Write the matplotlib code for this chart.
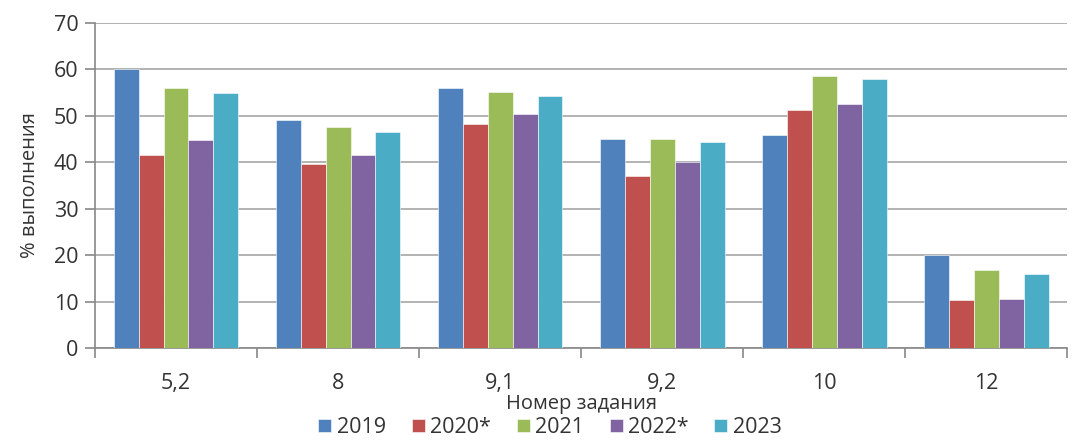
import matplotlib
matplotlib.use("Agg")
from matplotlib import pyplot as plt
import numpy as np

plt.rcParams['font.family'] = ['Open Sans', 'DejaVu Sans']

tasks = ["5,2", "8", "9,1", "9,2", "10", "12"]
years = ["2019", "2020*", "2021", "2022*", "2023"]
v2019 = [60.0, 49.0, 56.0, 45.0, 45.9, 20.0]
v2020 = [41.5, 39.7, 48.2, 37.1, 51.3, 10.4]
v2021 = [56.0, 47.5, 55.2, 45.0, 58.6, 16.7]
v2022 = [44.7, 41.5, 50.3, 40.0, 52.5, 10.6]
v2023 = [54.8, 46.5, 54.3, 44.3, 58.0, 15.9]
series = [v2019, v2020, v2021, v2022, v2023]
colors = ["#4F81BD", "#C0504D", "#9BBB59", "#8064A2", "#4BACC6"]

fig = plt.figure(figsize=(10.72, 4.4), dpi=100)
ax = fig.add_axes([0.0886, 0.209, 0.907, 0.739])

x = np.arange(len(tasks))
w = 0.154
for i, (vals, c) in enumerate(zip(series, colors)):
    ax.bar(x + (i - 2) * w, vals, w, color=c, label=years[i],
           edgecolor="white", linewidth=0.4, zorder=3)

ax.set_xlim(-0.5, len(tasks) - 0.5)
ax.set_ylim(0, 70)
ax.set_yticks(range(0, 71, 10))
ax.yaxis.grid(True, color="#A6A6A6", linewidth=1.2, zorder=0)
ax.set_axisbelow(True)

ax.set_xticks(np.arange(len(tasks) + 1) - 0.5)
ax.set_xticklabels([])
ax.set_xticks(x, minor=True)
ax.set_xticklabels(tasks, minor=True)
ax.tick_params(axis="x", which="minor", length=0, pad=18, labelsize=15.5, colors="#333333")
ax.tick_params(axis="x", which="major", length=7, color="#888888", width=1.2)
ax.tick_params(axis="y", length=7, color="#888888", width=1.2, labelsize=15.5,
               labelcolor="#333333", pad=5)

for s in ["top", "right"]:
    ax.spines[s].set_visible(False)
ax.spines["left"].set_color("#888888")
ax.spines["bottom"].set_color("#888888")
ax.spines["left"].set_linewidth(1.2)
ax.spines["bottom"].set_linewidth(1.2)

ax.set_ylabel("% выполнения", fontsize=14.5, color="#333333", labelpad=10)
ax.set_xlabel("Номер задания", fontsize=14.5, color="#333333", labelpad=0)

ax.legend(loc="upper center", bbox_to_anchor=(0.468, -0.212), ncol=5, frameon=False,
          fontsize=15.5, handlelength=0.6, handleheight=0.6, handletextpad=0.25,
          columnspacing=1.2, labelcolor="#333333", borderaxespad=0, borderpad=0)

fig.savefig("out.png", dpi=100)
